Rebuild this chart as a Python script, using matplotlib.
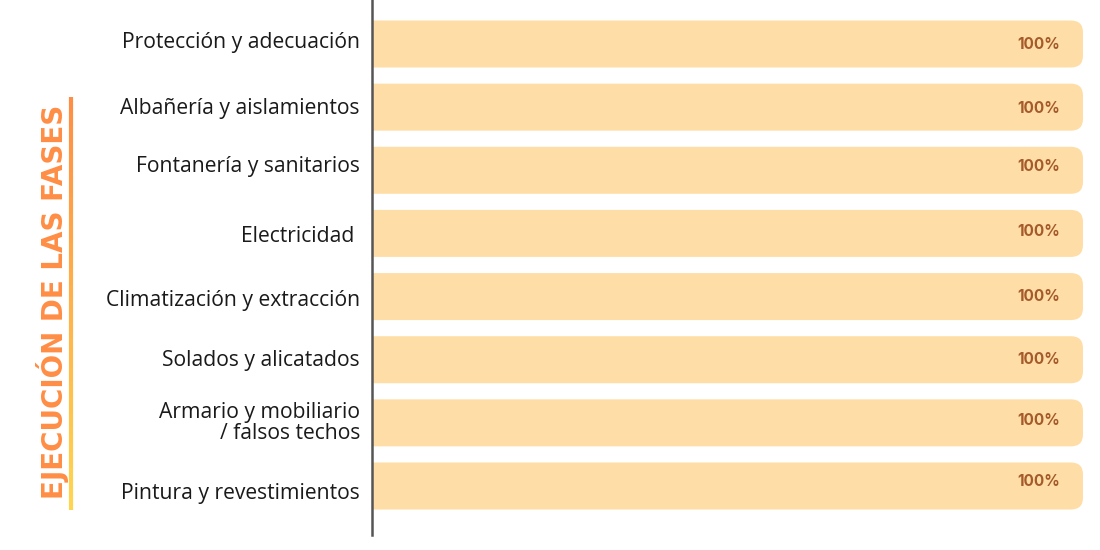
import numpy as np
import matplotlib
matplotlib.use("Agg")
import matplotlib.pyplot as plt
from matplotlib.patches import FancyBboxPatch
from matplotlib.collections import LineCollection
from matplotlib.colors import LinearSegmentedColormap
import matplotlib.transforms as mtransforms

# Fases de la obra y su avance
fases = [
    "Protección y adecuación",
    "Albañería y aislamientos",
    "Fontanería y sanitarios",
    "Electricidad ",
    "Climatización y extracción",
    "Solados y alicatados",
    "Armario y mobiliario\n/ falsos techos",
    "Pintura y revestimientos",
]
avance = [100, 100, 100, 100, 100, 100, 100, 100]
titulo = "EJECUCIÓN DE LAS FASES"

# pequeños desplazamientos verticales (px) de las etiquetas, como en el original
desp_etiqueta = [-2, 1, -4, 3, 4, 1, 0, 8]
desp_pct = [0, 1, -4, -2, 0, 0, -2, -4]

color_barra = "#FFDDA6"
color_pct = "#A45A2A"
color_titulo = "#FF8D45"

W, H = 1100, 550
fig = plt.figure(figsize=(11, 5.5), dpi=100)
fig.patch.set_facecolor("white")

# ejes: borde izquierdo en x=372 px, de y=0 a y=535 px
ax = fig.add_axes([372 / W, (H - 535) / H, (W - 372) / W, 535 / H])
n = len(fases)
y = np.arange(n)
paso = 63.14
ax.set_ylim(n - 1 + (535 - 486) / paso, -44 / paso)
ax.set_xlim(0, 100 * 728 / 711)

alto = 47 / paso
fig.canvas.draw()
# relación px por unidad en cada eje
px_x = ax.transData.transform((1, 0))[0] - ax.transData.transform((0, 0))[0]
px_y = abs(ax.transData.transform((0, 1))[1] - ax.transData.transform((0, 0))[1])
radio = 12 / px_x
aspecto = px_x / px_y

for i, v in enumerate(avance):
    # se empieza un poco antes de 0 para que el borde izquierdo quede recto
    caja = FancyBboxPatch((-3, y[i] - alto / 2), v + 3, alto,
                          boxstyle=f"round,pad=0,rounding_size={radio}",
                          mutation_aspect=aspecto,
                          facecolor=color_barra, edgecolor="none", clip_on=True)
    ax.add_patch(caja)
    off = mtransforms.offset_copy(ax.transData, fig=fig, x=-23, y=-desp_pct[i], units="dots")
    ax.text(v, y[i], f"{v}%", transform=off, ha="right", va="center",
            fontsize=11, fontweight="bold", color=color_pct, family=["Inter", "DejaVu Sans"])

ax.set_yticks([])
ax.set_xticks([])
for i, f in enumerate(fases):
    off = mtransforms.offset_copy(ax.transData, fig=fig, x=-12, y=-desp_etiqueta[i], units="dots")
    ax.text(0, y[i], f, transform=off, ha="right", va="center", fontsize=15.2,
            family=["Open Sans", "DejaVu Sans"], color="#1a1a1a", linespacing=1.0,
            multialignment="right")

for s in ["top", "right", "bottom"]:
    ax.spines[s].set_visible(False)
ax.spines["left"].set_color("#555555")
ax.spines["left"].set_linewidth(1.8)

# titulo vertical
fig.text(53 / W, 1 - 302 / H, titulo, rotation=90, ha="center", va="center",
         fontsize=20, fontweight="bold", color=color_titulo, family=["DejaVu Sans"])

# linea con degradado naranja -> amarillo
cmap = LinearSegmentedColormap.from_list("grad", ["#FF8D45", "#FFD54F"])
ys = np.linspace(97, 510, 100)
pts = np.array([[71 / W, 1 - yy / H] for yy in ys])
segs = np.stack([pts[:-1], pts[1:]], axis=1)
lc = LineCollection(segs, transform=fig.transFigure, colors=cmap(np.linspace(0, 1, len(segs))),
                    linewidth=3)
fig.add_artist(lc)

fig.savefig("out.png", dpi=100)
